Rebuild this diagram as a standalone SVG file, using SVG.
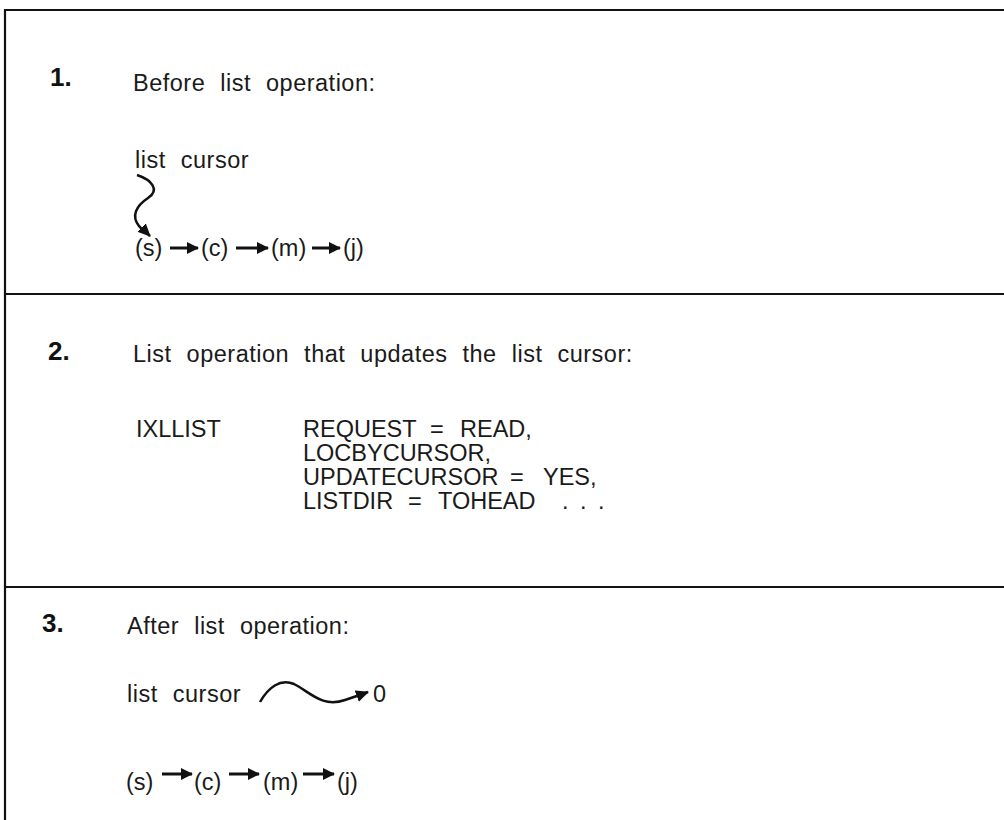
<svg xmlns="http://www.w3.org/2000/svg" width="1004" height="820" viewBox="0 0 1004 820">
  <style>
    .t { font-family: "Liberation Sans", Arial, Helvetica, sans-serif; font-size: 23.5px; fill: #1a1a1a; letter-spacing: 0.5px; word-spacing: 8px; }
    .c { font-family: "Liberation Sans", Arial, Helvetica, sans-serif; font-size: 23.5px; fill: #1a1a1a; }
    .num { font-family: "Liberation Sans", Arial, Helvetica, sans-serif; font-size: 26px; font-weight: bold; fill: #111; }
    .frame { stroke: #111; stroke-width: 2.2; fill: none; }
    .arr { stroke: #111; stroke-width: 3; fill: none; marker-end: url(#ah); }
    .curve { stroke: #111; stroke-width: 2.5; fill: none; marker-end: url(#ah2); }
  </style>
  <defs>
    <marker id="ah" markerUnits="userSpaceOnUse" markerWidth="12" markerHeight="12" refX="11" refY="6" orient="auto">
      <path d="M0,0 L12,6 L0,12 z" fill="#111"/>
    </marker>
    <marker id="ah2" markerUnits="userSpaceOnUse" markerWidth="13" markerHeight="12" refX="12" refY="6" orient="auto">
      <path d="M0,0 L13,6 L0,12 z" fill="#111"/>
    </marker>
  </defs>
  <rect width="1004" height="820" fill="#fff"/>

  <g id="frame">
    <path class="frame" d="M1004,10 H5 V820"/>
    <line class="frame" x1="5" y1="294" x2="1004" y2="294"/>
    <line class="frame" x1="5" y1="587" x2="1004" y2="587"/>
  </g>

  <g id="section1">
    <text class="num" x="50" y="86">1.</text>
    <text class="t" x="133" y="91">Before list operation:</text>
    <g id="cursor1"><text class="t" x="135" y="168">list cursor</text></g>
    <g id="s1"><text class="c" x="135" y="256">(s)</text></g>
    <g id="c1"><text class="c" x="201" y="256">(c)</text></g>
    <g id="m1"><text class="c" x="271" y="256">(m)</text></g>
    <g id="j1"><text class="c" x="343" y="256">(j)</text></g>
  </g>

  <g id="section2">
    <text class="num" x="48" y="360">2.</text>
    <text class="t" x="133" y="362">List operation that updates the list cursor:</text>
    <g id="ixllist">
      <text class="c" x="136" y="437">IXLLIST</text>
      <text class="c" y="437"><tspan x="303">REQUEST</tspan><tspan x="430">=</tspan><tspan x="460">READ,</tspan></text>
      <text class="c" x="303" y="461">LOCBYCURSOR,</text>
      <text class="c" y="485"><tspan x="303">UPDATECURSOR</tspan><tspan x="510">=</tspan><tspan x="543">YES,</tspan></text>
      <text class="c" y="509"><tspan x="303">LISTDIR</tspan><tspan x="408">=</tspan><tspan x="438">TOHEAD</tspan><tspan x="562">.</tspan><tspan x="580">.</tspan><tspan x="598">.</tspan></text>
    </g>
  </g>

  <g id="section3">
    <text class="num" x="42" y="632">3.</text>
    <text class="t" x="127" y="634">After list operation:</text>
    <g id="cursor3"><text class="t" x="127" y="702">list cursor</text></g>
    <g id="zero"><text class="c" x="373" y="702">0</text></g>
    <g id="s3"><text class="c" x="126" y="790">(s)</text></g>
    <g id="c3"><text class="c" x="194" y="790">(c)</text></g>
    <g id="m3"><text class="c" x="263" y="790">(m)</text></g>
    <g id="j3"><text class="c" x="337" y="790">(j)</text></g>
  </g>

  <g id="connectors">
    <path class="curve" d="M137,175 C152,180 160,190 148,198 C136,206 131,216 139,226 C142,230 146,232 150,236"/>
    <line class="arr" x1="170" y1="248" x2="198" y2="248"/>
    <line class="arr" x1="236" y1="248" x2="268" y2="248"/>
    <line class="arr" x1="312" y1="248" x2="340" y2="248"/>
    <path class="curve" d="M260,702 C268,688 280,678 294,684 C310,692 322,708 345,700 C354,697 360,695 368,692"/>
    <line class="arr" x1="162" y1="774" x2="192" y2="774"/>
    <line class="arr" x1="229" y1="774" x2="259" y2="774"/>
    <line class="arr" x1="303" y1="774" x2="334" y2="774"/>
  </g>
</svg>
